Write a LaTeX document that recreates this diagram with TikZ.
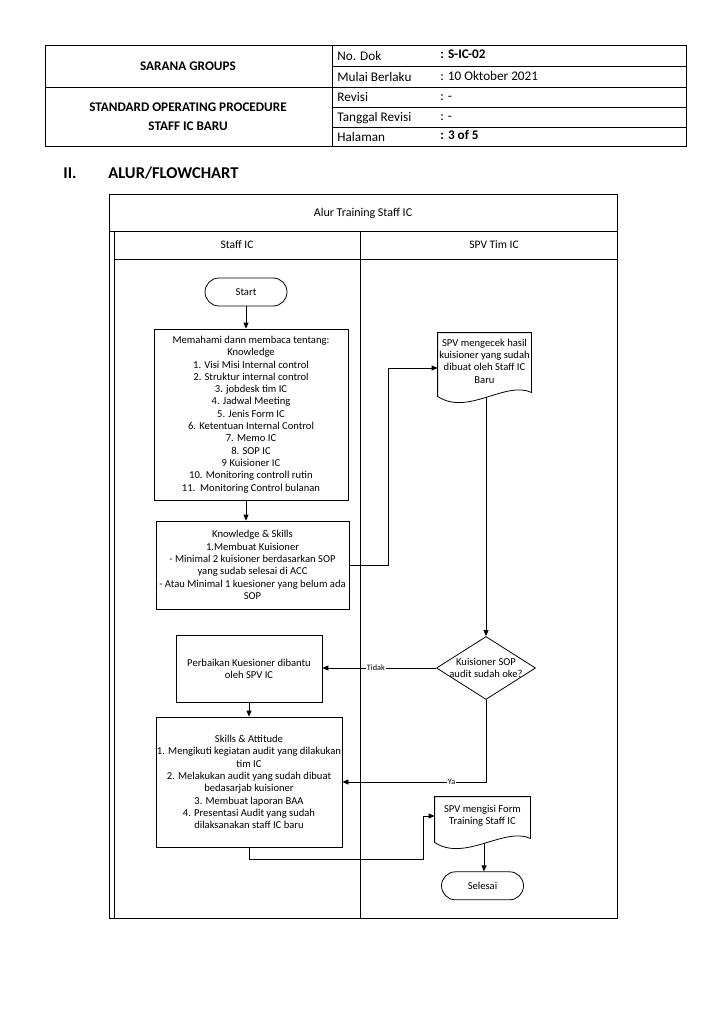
\documentclass[tikz,border=0pt]{standalone}
\usepackage{fontspec}
\setmainfont{Carlito}
\usetikzlibrary{arrows.meta,positioning,shapes.geometric}

% outline of a document symbol round a node, with a named point on its wave
\newcommand{\docoutline}[1]{%
  \draw ([yshift=-7pt]#1.south west) -- (#1.north west) -- (#1.north east)
    -- ([yshift=-3pt]#1.south east)
    .. controls ([xshift=-26pt,yshift=9pt]#1.south east) and ([xshift=30pt,yshift=-27pt]#1.south west)
    .. ([yshift=-7pt]#1.south west) -- cycle;
  \coordinate (#1-b) at ([xshift=1.5pt,yshift=-8pt]#1.south);}

\begin{document}
\begin{tikzpicture}[x=1pt,y=-1pt,
  font=\fontsize{10.6}{12.3}\selectfont,
  line width=0.8pt,
  procbox/.style={draw,align=center,inner xsep=1pt,inner ysep=2pt},
  term/.style={draw,rounded corners=14pt,minimum width=82pt,minimum height=28pt,inner sep=1pt},
  doc/.style={align=center,inner sep=0pt,minimum height=56pt},
  decision/.style={draw,diamond,minimum width=99pt,minimum height=63pt,inner sep=0pt},
  hdr/.style={font=\fontsize{13.2}{19}\selectfont,inner sep=0pt},
  hdrb/.style={font=\fontsize{13.2}{19}\selectfont\bfseries,inner sep=0pt},
  lbl/.style={fill=white,inner sep=1pt,font=\fontsize{8.2}{8}\selectfont},
  flow/.style={-{Triangle[length=6pt,width=5pt]}}]

\useasboundingbox (0,0) rectangle (719,1024);

% header table
\draw (45,45) rectangle (686,146);
\draw (332,45) -- (332,146);
\draw (45,87) -- (686,87);
\foreach \y in {66,107,127} \draw (332,\y) -- (686,\y);

\node[hdrb] (grp) at (188,66) {SARANA GROUPS};
\node[hdrb,align=center] (sop) at (188,117)
     {STANDARD OPERATING PROCEDURE\\ STAFF IC BARU};
\node[hdr,anchor=base west] (ndok) at (337,61) {No. Dok};
\node[hdr,anchor=base west] (mulai) at (337,82) {Mulai Berlaku};
\node[hdr,anchor=base west] (rev) at (337,102) {Revisi};
\node[hdr,anchor=base west] (tgl) at (337,122) {Tanggal Revisi};
\node[hdr,anchor=base west] (hal) at (337,142) {Halaman};
\node[hdrb,anchor=base west] (vdok) at (440,59) {: S-IC-02};
\node[hdr,anchor=base west] (vmulai) at (440,81) {: 10 Oktober 2021};
\node[hdr,anchor=base west] (vrev) at (440,101) {: -};
\node[hdr,anchor=base west] (vtgl) at (440,121) {: -};
\node[hdrb,anchor=base west] (vhal) at (440,140) {: 3 of 5};

\node[anchor=west,inner sep=0pt,font=\fontsize{16.5}{18}\selectfont\bfseries] (sec) at (63,173) {II.};
\node[anchor=west,inner sep=0pt,font=\fontsize{16.5}{18}\selectfont\bfseries] (sectitle) at (108,173) {ALUR/FLOWCHART};

% swimlane frame
\draw (109,194) rectangle (617,918);
\draw (109,231) -- (617,231);
\draw (114,231) -- (114,918);
\draw (114,259) -- (617,259);
\draw (360,231) -- (360,918);
\node[font=\fontsize{12}{14}\selectfont] (title) at (363,213) {Alur Training Staff IC};
\node[font=\fontsize{11.5}{14}\selectfont] (laneA) at (237,245) {Staff IC};
\node[font=\fontsize{11.5}{14}\selectfont] (laneB) at (494,245) {SPV Tim IC};

% Staff IC lane
\node[term] (start) at (246,292) {Start};
\node[procbox,minimum width=194pt,minimum height=171pt] (know) at (251,414.5)
     {Memahami dann membaca tentang:\\ Knowledge\\ 1. Visi Misi Internal control\\
      2. Struktur internal control\\ 3. jobdesk tim IC\\ 4. Jadwal Meeting\\
      5. Jenis Form IC\\ 6. Ketentuan Internal Control\\ 7. Memo IC\\ 8. SOP IC\\
      9 Kuisioner IC\\ 10. Monitoring controll rutin\\ 11.\ \ Monitoring Control bulanan};
\node[procbox,minimum width=193pt,minimum height=88pt] (ks) at (252.5,565)
     {Knowledge \& Skills\\ 1.Membuat Kuisioner\\ - Minimal 2 kuisioner berdasarkan SOP\\
      yang sudab selesai di ACC\\ - Atau Minimal 1 kuesioner yang belum ada\\ SOP};
\node[procbox,minimum width=146pt,minimum height=67pt] (perb) at (249,668.5)
     {Perbaikan Kuesioner dibantu\\ oleh SPV IC};
\node[procbox,minimum width=184pt,minimum height=130pt] (sa) at (249,782)
     {Skills \& Attitude\\ 1. Mengikuti kegiatan audit yang dilakukan\\ tim IC\\
      2. Melakukan audit yang sudah dibuat\\ bedasarjab kuisioner\\
      3. Membuat laporan BAA\\ 4. Presentasi Audit yang sudah\\ dilaksanakan staff IC baru};

% SPV Tim IC lane
\node[doc,minimum width=93pt] (cek) at (484.5,361)
     {SPV mengecek hasil\\ kuisioner yang sudah\\ dibuat oleh Staff IC\\ Baru};
\docoutline{cek}
\node[decision,label={[align=center]center:{Kuisioner SOP\\ audit sudah oke?}}] (oke) at (486,668) {};
\node[doc,minimum width=95pt,minimum height=38pt] (isi) at (482.5,816)
     {SPV mengisi Form\\ Training Staff IC};
\docoutline{isi}
\node[term,below=36pt of isi] (selesai) {Selesai};

\draw[flow] (start) -- (start |- know.north);
\draw[flow] (start |- know.south) -- (start |- ks.north);
\draw[flow] (ks.east) -- ++(39,0) |- ([yshift=-7pt]cek.west);
\draw[flow] (cek-b) -- (cek-b |- oke.north);
\draw[flow] (oke.west) -- (oke.west -| perb.east) node[lbl,pos=0.53] {Tidak};
\draw[flow] (oke.south) |- (sa.east) node[lbl,pos=0.62] {Ya};
\draw[flow] (perb.south) -- (perb.south |- sa.north);
\draw[flow] (sa.south) -- ++(0,12) -- ++(174,0) |- (isi.west);
\draw[flow] (isi-b) -- (isi-b |- selesai.north);
\end{tikzpicture}
\end{document}
